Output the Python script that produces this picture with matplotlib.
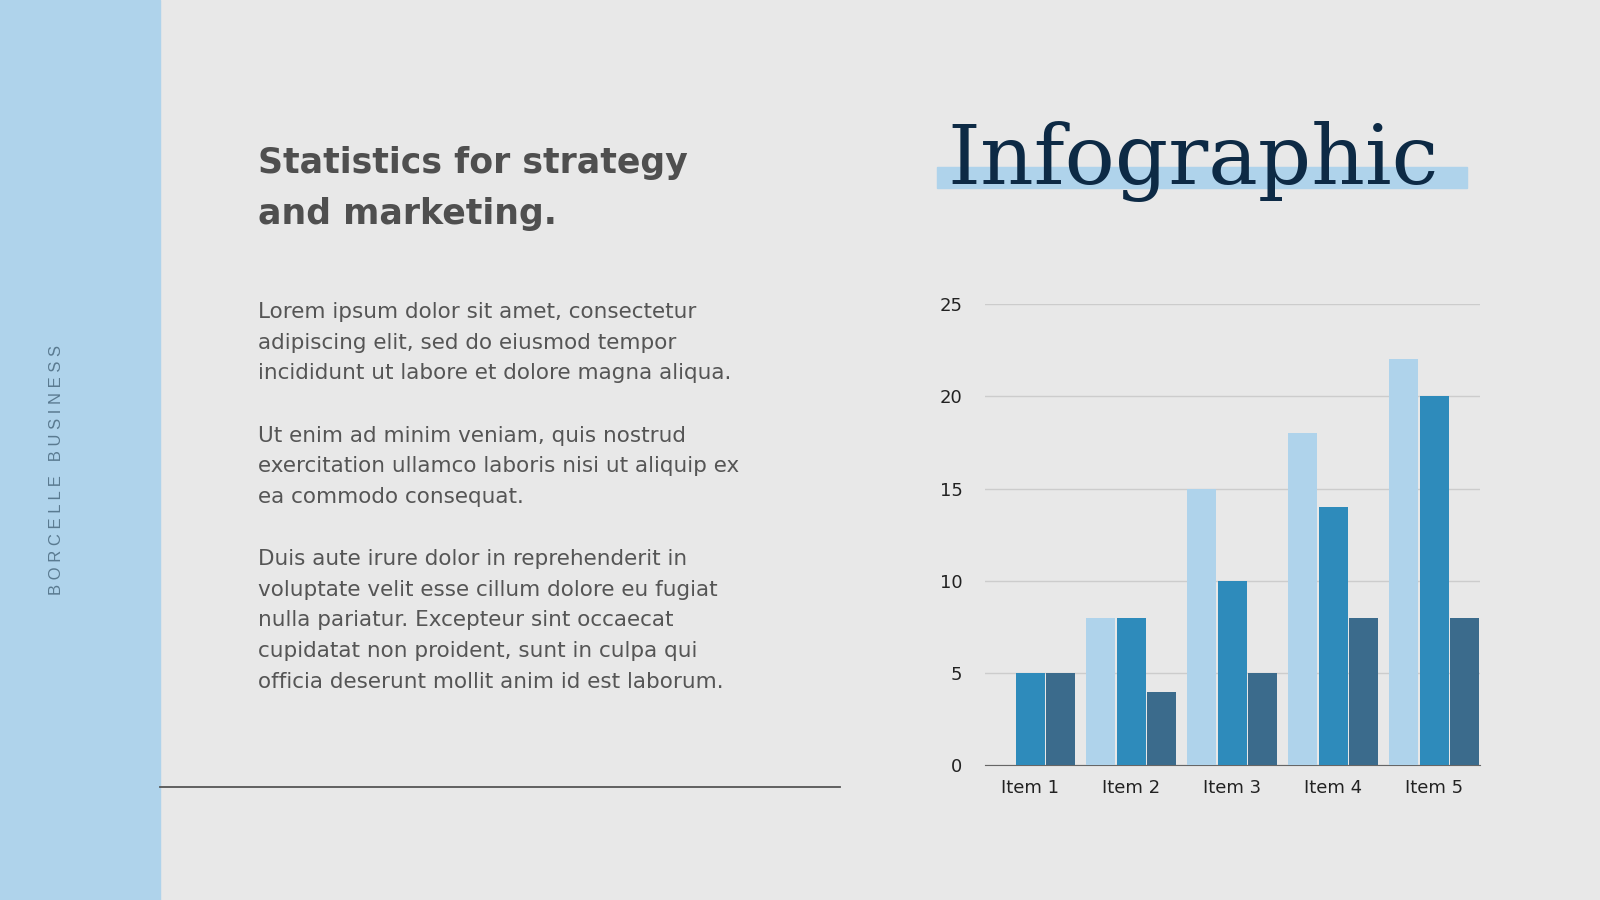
import matplotlib
matplotlib.use("Agg")
import numpy as np
import matplotlib.pyplot as plt
from matplotlib.patches import Rectangle

items = ["Item 1", "Item 2", "Item 3", "Item 4", "Item 5"]
series_a = [0, 8, 15, 18, 22]
series_b = [5, 8, 10, 14, 20]
series_c = [5, 4, 5, 8, 8]
yticks = [0, 5, 10, 15, 20, 25]

W, H = 1568, 882
bg = "#e8e8e8"
fig = plt.figure(figsize=(16, 9), dpi=100, facecolor=bg)


def fx(px):
    return px / W


def fy(py):
    return 1 - py / H


# left band
fig.patches.append(Rectangle((0, 0), fx(157), 1, transform=fig.transFigure,
                             color="#afd3eb", zorder=0))
fig.text(fx(55), fy(461), "B O R C E L L E   B U S I N E S S", rotation=90,
         ha="center", va="center", fontsize=12, color="#5a7a90", family="Liberation Sans")

# heading
fig.text(fx(253), fy(160), "Statistics for strategy", fontsize=25, fontweight="bold",
         color="#4f4f4f", va="center", family="DejaVu Sans")
fig.text(fx(253), fy(210), "and marketing.", fontsize=25, fontweight="bold",
         color="#4f4f4f", va="center", family="DejaVu Sans")

paras = [
    ["Lorem ipsum dolor sit amet, consectetur",
     "adipiscing elit, sed do eiusmod tempor",
     "incididunt ut labore et dolore magna aliqua."],
    ["Ut enim ad minim veniam, quis nostrud",
     "exercitation ullamco laboris nisi ut aliquip ex",
     "ea commodo consequat."],
    ["Duis aute irure dolor in reprehenderit in",
     "voluptate velit esse cillum dolore eu fugiat",
     "nulla pariatur. Excepteur sint occaecat",
     "cupidatat non proident, sunt in culpa qui",
     "officia deserunt mollit anim id est laborum."],
]
starts = [306, 427, 548]
for start, lines in zip(starts, paras):
    for i, line in enumerate(lines):
        fig.text(fx(253), fy(start + 30 * i), line, fontsize=15.5, color="#555555",
                 va="center", family="DejaVu Sans")

# divider line
fig.add_artist(plt.Line2D([fx(157), fx(823)], [fy(771), fy(771)],
                          transform=fig.transFigure, color="#555555", linewidth=1.3))

# title with highlight
fig.patches.append(Rectangle((fx(918), fy(184)), fx(520), 20 / H,
                             transform=fig.transFigure, color="#afd3eb", zorder=1))
fig.text(fx(928), fy(180), "Infographic", fontsize=60, color="#0d2a45",
         family="DejaVu Serif", va="baseline", zorder=2)

# chart
ax = fig.add_axes([fx(965), fy(750), fx(1450) - fx(965), (750 - 298) / H])
ax.set_facecolor(bg)
x = np.arange(len(items))
w = 0.3
bw = 0.285
ax.bar(x - w, series_a, bw, color="#afd3eb", zorder=3)
ax.bar(x, series_b, bw, color="#2e8bbb", zorder=3)
ax.bar(x + w, series_c, bw, color="#3b6b8c", zorder=3)
ax.set_xlim(-0.45, 4.45)
ax.set_ylim(0, 25)
ax.set_yticks(yticks)
ax.set_xticks(x)
ax.set_xticklabels(items)
ax.yaxis.grid(True, color="#cccccc", linewidth=1, zorder=0)
for s in ["top", "right", "left"]:
    ax.spines[s].set_visible(False)
ax.spines["bottom"].set_color("#666666")
ax.tick_params(length=0, labelsize=13, colors="#222222", pad=10)
ax.tick_params(axis="y", pad=16)

fig.savefig("out.png", dpi=100, facecolor=bg)
